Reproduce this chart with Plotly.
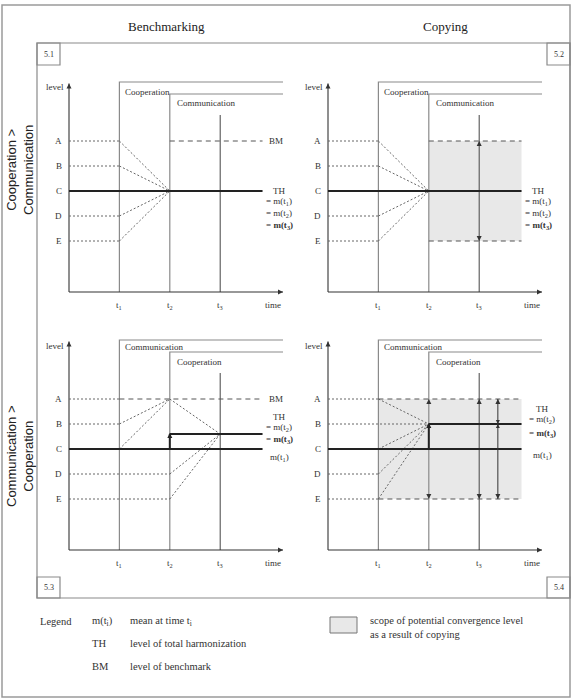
import plotly.graph_objects as go

W, H = 574, 699

# ---------------- data ----------------
level_names = ["A", "B", "C", "D", "E"]
level_values = [4, 3, 2, 1, 0]
time_names = ["t<sub>1</sub>", "t<sub>2</sub>", "t<sub>3</sub>"]
time_values = [1, 2, 3]
th_level = 2             # C : level of total harmonization / m(t1)
bm_level = 4             # A : benchmark
m_t2_benchmarking = 2.6  # mean after step t2 in 5.3
m_t2_copying = 3         # mean after step t2 in 5.4 (B)
panel_ids = ["5.1", "5.2", "5.3", "5.4"]
column_titles = ["Benchmarking", "Copying"]
row_titles = ["Cooperation &gt;<br>Communication", "Communication &gt;<br>Cooperation"]
box_labels = [["Cooperation", "Communication"], ["Communication", "Cooperation"]]
legend_keys = ["m(t<sub>i</sub>)", "TH", "BM"]
legend_texts = ["mean at time t<sub>i</sub>", "level of total harmonization", "level of benchmark"]
scope_text = "scope of potential convergence level<br>as a result of copying"

# ---------------- geometry (drawing constants) ----------------
X_END = 4.246
Y_BOT = -2.04
Y_TOP = 6.3
LINE_END = 3.84
BOX1_TOP = 6.36
BOX2_TOP = 5.88
T3_TOP = 5.04
PXU_X = 50.4
PXU_Y = 25.0

SERIF = "Liberation Serif"
SANS = "Liberation Sans"
INK = "#333333"
DOT = dict(color="#666666", width=1, dash="2px,2px")
DASH = dict(color="#555555", width=1, dash="5px,4px")
THICK = dict(color="#222222", width=2)
BOXL = dict(color="#8a8a8a", width=1.2)
AXL = dict(color="#333333", width=1.1)
GREY_FILL = "#e8e8e8"

fig = go.Figure()
annotations = []
shapes = []


def sfx(i):
    return "" if i == 1 else str(i)


def px_x(p):
    return p / W


def px_y(p):
    return 1 - p / H


# panel placement: (t=0 pixel x, E-level pixel y)
panels = {1: (69, 241), 2: (328, 241), 3: (69, 499), 4: (328, 499)}
layout_axes = {}
for i, (x0, y0) in panels.items():
    dx0, dx1 = x0 - 39, x0 + 231
    dy_top, dy_bot = y0 - 171, y0 + 79
    xr = [(dx0 - x0) / PXU_X, (dx1 - x0) / PXU_X]
    yr = [(y0 - dy_bot) / PXU_Y, (y0 - dy_top) / PXU_Y]
    layout_axes["xaxis" + sfx(i)] = dict(domain=[px_x(dx0), px_x(dx1)], range=xr, visible=False,
                                         fixedrange=True, anchor="y" + sfx(i))
    layout_axes["yaxis" + sfx(i)] = dict(domain=[px_y(dy_bot), px_y(dy_top)], range=yr, visible=False,
                                         fixedrange=True, anchor="x" + sfx(i))


def line(i, xs, ys, style):
    fig.add_trace(go.Scatter(x=xs, y=ys, mode="lines", line=style, xaxis="x" + sfx(i),
                             yaxis="y" + sfx(i), hoverinfo="skip", showlegend=False))


def heads(i, xs, ys, symbols, size=5, color="#333333"):
    fig.add_trace(go.Scatter(x=xs, y=ys, mode="markers", xaxis="x" + sfx(i), yaxis="y" + sfx(i),
                             marker=dict(symbol=symbols, size=size, color=color, line=dict(width=0)),
                             hoverinfo="skip", showlegend=False, cliponaxis=False))


def fill(i, xs, ys):
    fig.add_trace(go.Scatter(x=xs, y=ys, mode="lines", fill="toself", fillcolor=GREY_FILL,
                             line=dict(width=0, color=GREY_FILL), xaxis="x" + sfx(i),
                             yaxis="y" + sfx(i), hoverinfo="skip", showlegend=False))


def text(i, x, y, s, size=9, xanchor="center", color=INK):
    annotations.append(dict(x=x, y=y, xref="x" + sfx(i), yref="y" + sfx(i), text=s, showarrow=False,
                            xanchor=xanchor, yanchor="middle",
                            font=dict(family=SERIF, size=size, color=color)))


LV = dict(zip(level_names, level_values))
t1, t2, t3 = time_values
LBL_X = 4.17


def common(i, labels, gap1):
    line(i, [t1, t1, X_END], [Y_BOT, BOX1_TOP, BOX1_TOP], BOXL)
    line(i, [t2, t2, X_END], [Y_BOT, BOX2_TOP, BOX2_TOP], BOXL)
    line(i, [t3, t3], [Y_BOT, T3_TOP], dict(color="#555555", width=1.1))
    text(i, t1 + 0.07, BOX1_TOP - gap1, labels[0], size=9, xanchor="left")
    text(i, t2 + 0.1, BOX2_TOP - 0.38, labels[1], size=9, xanchor="left")
    # axes with arrowheads
    line(i, [0, X_END], [Y_BOT, Y_BOT], AXL)
    line(i, [0, 0], [Y_BOT, Y_TOP], AXL)
    heads(i, [X_END, 0], [Y_BOT, Y_TOP], ["arrow-right", "arrow-up"], size=5)
    text(i, -0.06, Y_TOP - 0.16, "level", size=9, xanchor="right")
    text(i, 4.04, Y_BOT - 0.52, "time", size=9)
    for tn, tv in zip(time_names, time_values):
        text(i, tv, Y_BOT - 0.52, tn, size=9)
    for ln, lv in zip(level_names, level_values):
        text(i, -0.2, lv, ln, size=9)


def panel_top(i, copying):
    if copying:
        fill(i, [t2, LINE_END, LINE_END, t2], [LV["E"], LV["E"], LV["A"], LV["A"]])
    common(i, box_labels[0], 0.4)
    for ln in ["A", "B", "D", "E"]:
        line(i, [0, t1], [LV[ln], LV[ln]], DOT)
        line(i, [t1, t2], [LV[ln], th_level], DOT)
    line(i, [0, LINE_END], [th_level, th_level], THICK)
    if copying:
        line(i, [t2, LINE_END], [LV["A"], LV["A"]], DASH)
        line(i, [t2, LINE_END], [LV["E"], LV["E"]], DASH)
        heads(i, [t3, t3], [LV["A"], LV["E"]], ["arrow-up", "arrow-down"], size=5)
    else:
        line(i, [t2, LINE_END], [bm_level, bm_level], DASH)
        text(i, 4.1, bm_level, "BM")
    text(i, LBL_X, th_level, "TH")
    text(i, LBL_X, th_level - 0.44, "= m(t<sub>1</sub>)")
    text(i, LBL_X, th_level - 0.92, "= m(t<sub>2</sub>)")
    text(i, LBL_X, th_level - 1.4, "<b>= m(t<sub>3</sub>)</b>")


# ---------- 5.1 / 5.2 ----------
panel_top(1, False)
panel_top(2, True)

# ---------- 5.3 Benchmarking, Communication > Cooperation ----------
i = 3
common(i, box_labels[1], 0.27)
line(i, [0, t1], [LV["A"], LV["A"]], DOT)
line(i, [t1, LINE_END], [bm_level, bm_level], DASH)
line(i, [0, t1], [LV["B"], LV["B"]], DOT)
line(i, [t1, t2], [LV["B"], bm_level], DOT)
line(i, [t1, t2], [LV["C"], bm_level], DOT)
line(i, [0, t2], [LV["D"], LV["D"]], DOT)
line(i, [0, t2], [LV["E"], LV["E"]], DOT)
for start in [bm_level, LV["D"], LV["E"]]:
    line(i, [t2, t3], [start, m_t2_benchmarking], DOT)
line(i, [0, LINE_END], [th_level, th_level], THICK)
line(i, [t2, t2], [th_level, m_t2_benchmarking], THICK)
line(i, [t2, LINE_END], [m_t2_benchmarking, m_t2_benchmarking], THICK)
heads(i, [t2], [m_t2_benchmarking + 0.04], ["arrow-up"], size=5, color="#222")
text(i, 4.1, bm_level, "BM")
text(i, LBL_X, m_t2_benchmarking + 0.68, "TH")
text(i, LBL_X, m_t2_benchmarking + 0.28, "= m(t<sub>2</sub>)")
text(i, LBL_X, m_t2_benchmarking - 0.2, "<b>= m(t<sub>3</sub>)</b>")
text(i, LBL_X, th_level - 0.32, "m(t<sub>1</sub>)")

# ---------- 5.4 Copying, Communication > Cooperation ----------
i = 4
fill(i, [t1, LINE_END, LINE_END, t1], [LV["E"], LV["E"], LV["A"], LV["A"]])
common(i, box_labels[1], 0.27)
for ln in ["A", "D", "E"]:
    line(i, [0, t1], [LV[ln], LV[ln]], DOT)
line(i, [0, t2], [LV["B"], LV["B"]], DOT)
for ln in ["A", "C", "D", "E"]:
    line(i, [t1, t2], [LV[ln], m_t2_copying], DOT)
line(i, [t1, LINE_END], [LV["A"], LV["A"]], DASH)
line(i, [t1, LINE_END], [LV["E"], LV["E"]], DASH)
line(i, [0, LINE_END], [th_level, th_level], THICK)
line(i, [t2, t2], [th_level, m_t2_copying], THICK)
line(i, [t2, LINE_END], [m_t2_copying, m_t2_copying], THICK)
heads(i, [t2], [m_t2_copying + 0.04], ["arrow-up"], size=5, color="#222")
heads(i, [t2, t2, t3, t3], [LV["A"], LV["E"], LV["A"], LV["E"]],
      ["arrow-up", "arrow-down", "arrow-up", "arrow-down"], size=5)
x_span = 3.37
line(i, [x_span, x_span], [LV["E"], LV["A"]], dict(color="#333333", width=1))
heads(i, [x_span, x_span], [LV["A"], LV["E"]], ["arrow-up", "arrow-down"], size=5)
heads(i, [x_span, x_span], [m_t2_copying, m_t2_copying], ["arrow-up", "arrow-down"], size=4)
text(i, 4.25, m_t2_copying + 0.6, "TH")
text(i, 4.25, m_t2_copying + 0.2, "= m(t<sub>2</sub>)")
text(i, 4.25, m_t2_copying - 0.36, "<b>= m(t<sub>3</sub>)</b>")
text(i, 4.25, th_level - 0.24, "m(t<sub>1</sub>)")


# ---------------- frames & page texts (paper) ----------------
def prect(x0, y0, x1, y1, color="#888", width=1, fillc=None):
    shapes.append(dict(type="rect", xref="paper", yref="paper", x0=px_x(x0), x1=px_x(x1),
                       y0=px_y(y1), y1=px_y(y0), line=dict(color=color, width=width),
                       fillcolor=fillc if fillc else "rgba(0,0,0,0)", layer="below"))


def ptext(x, y, s, size=10, xanchor="left", family=SERIF, angle=0, color=INK, align="left"):
    annotations.append(dict(x=px_x(x), y=px_y(y), xref="paper", yref="paper", text=s, showarrow=False,
                            xanchor=xanchor, yanchor="middle", textangle=angle, align=align,
                            font=dict(family=family, size=size, color=color)))


prect(2, 5, 570, 697, color="#9a9a9a", width=1.5)
prect(37, 43, 570, 598, color="#8a8a8a", width=1.2)
corner_boxes = [(37, 43, 60, 65), (547, 43, 570, 65), (37, 577, 60, 598), (547, 577, 570, 598)]
for pid, (a, b, c, d) in zip(panel_ids, corner_boxes):
    prect(a, b, c, d, color="#8a8a8a", width=1.2)
    ptext((a + c) / 2, (b + d) / 2, pid, size=8, xanchor="center")

ptext(166, 26, column_titles[0], size=13, xanchor="center", color="#222")
ptext(445, 26, column_titles[1], size=13, xanchor="center", color="#222")
ptext(20, 170, row_titles[0], size=13, xanchor="center", family=SANS, angle=-90, color="#222", align="center")
ptext(20, 456, row_titles[1], size=13, xanchor="center", family=SANS, angle=-90, color="#222", align="center")

ptext(38, 621, "Legend", size=10.5)
for k, (key, desc) in enumerate(zip(legend_keys, legend_texts)):
    yy = 621 + k * 22.5
    ptext(90, yy, key, size=10.5)
    ptext(128, yy, desc, size=10.5)
prect(330, 617, 357, 633, color="#777", width=1, fillc=GREY_FILL)
ptext(368, 627, scope_text, size=10.5)

fig.update_layout(width=W, height=H, margin=dict(l=0, r=0, t=0, b=0), paper_bgcolor="white",
                  plot_bgcolor="rgba(0,0,0,0)", showlegend=False, annotations=annotations,
                  shapes=shapes, hovermode=False, **layout_axes)
fig.write_html("out.html", config={"displayModeBar": False, "staticPlot": True},
               post_script="document.body.style.margin='0';document.body.style.overflow='hidden';")
